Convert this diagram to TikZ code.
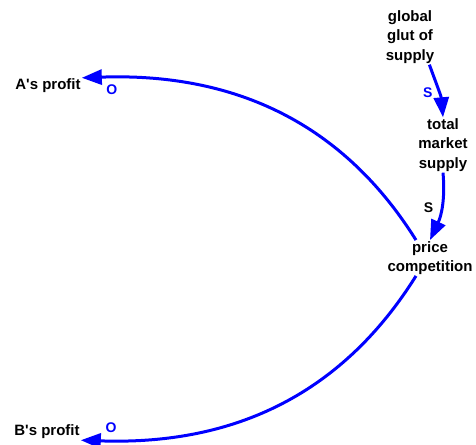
\documentclass[tikz,border=0pt]{standalone}
\usepackage{fontspec}
\setmainfont{Liberation Sans}
\usetikzlibrary{arrows.meta}

\tikzset{
  var/.style={font=\fontsize{15}{19.5}\selectfont\bfseries, align=center, inner sep=1pt},
  link/.style={draw=blue, line width=3pt, -{Triangle[length=20pt,width=15pt]}},
  polar/.style={font=\fontsize{14}{14}\selectfont\bfseries, text=blue, inner sep=1pt}
}

\begin{document}
\begin{tikzpicture}[x=1pt,y=-1pt]
    \useasboundingbox (0,0) rectangle (476,444);
    \node[var] (glut) at (410,37) {global\\glut of\\supply};
    \node[var] (total) at (443,145) {total\\market\\supply};
    \node[var] (price) at (430,258) {price\\competition};
    \node[var] (aprofit) at (48,86) {A\textquotesingle s profit};
    \node[var] (bprofit) at (47,432) {B\textquotesingle s profit};
    \draw[link] (glut.-55) to[out=-70,in=95] node [pos=0.55, left=4pt, polar] {S} (total.north);
    \draw[link] (total.south) to[out=-85,in=65] node [pos=0.5, left=6pt, polar, text=black] {S} (price.north);
    \draw[link] (price.128) to[out=122,in=2] node [pos=0.93, below=5pt, polar] {O} (aprofit.north east);
    \draw[link] (price.-128) to[out=-122,in=-2] node [pos=0.93, above=5pt, polar] {O} (bprofit.south east);
  \end{tikzpicture}
\end{document}
